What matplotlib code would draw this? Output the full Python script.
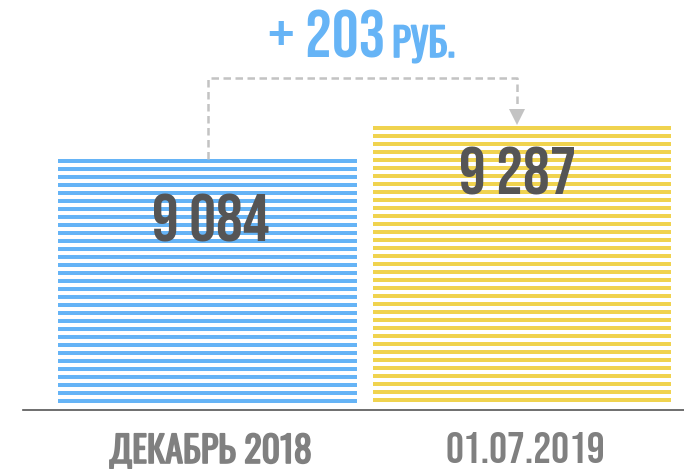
import numpy as np
import matplotlib
matplotlib.use("Agg")
import matplotlib.pyplot as plt
import matplotlib.transforms as mtransforms
import matplotlib.patheffects as pe

categories = ["ДЕКАБРЬ 2018", "01.07.2019"]
values = [9084, 9287]
value_labels = ["9 084", "9 287"]
diff_label = "+ 203"
unit_label = "РУБ."

blue = "#66b4f6"
yellow = "#f0d34f"
colors = [blue, yellow]

plt.rcParams["font.family"] = ["Bebas Neue", "Oswald", "DejaVu Sans"]

fig = plt.figure(figsize=(6.84, 4.69), dpi=100)
ax = fig.add_axes([0, 0, 1, 1])
ax.axis("off")

base = 7580
per_px = 6.15  # data units per pixel
ax.set_ylim(base - 65 * per_px, base + 404 * per_px)
ax.set_xlim(-0.66, 1.515)

x = np.arange(len(values))
width = 0.948
period = 8 * per_px
thick = 3.7 * per_px

# striped bars
for i, v in enumerate(values):
    tops = np.arange(v, base, -period)
    bottoms = tops - thick
    keep = bottoms >= base - 1
    ax.bar(np.full(keep.sum(), x[i]), thick, bottom=bottoms[keep], width=width,
           color=colors[i], linewidth=0)

# baseline
ax.axhline(base - 6 * per_px, xmin=23 / 684, xmax=1, color="#555555", lw=1.2)

# value labels
ax.text(x[0] + 0.01, values[0] - 59 * per_px, value_labels[0], ha="center", va="center",
        fontsize=48, color="#555555")
ax.text(x[1] - 0.015, values[1] - 45 * per_px, value_labels[1], ha="center", va="center",
        fontsize=48, color="#555555")

# category labels (Cyrillic one in Oswald, Bebas has no Cyrillic)
trans = mtransforms.blended_transform_factory(ax.transData, fig.transFigure)
ax.text(x[0] + 0.01, 1 - 463 / 469, categories[0], transform=trans, ha="center",
        va="baseline", fontsize=26, family=["Oswald", "DejaVu Sans"], color="#808080",
        path_effects=[pe.withStroke(linewidth=1.2, foreground="#808080")])
ax.text(x[1] + 0.01, 1 - 463 / 469, categories[1], transform=trans, ha="center",
        va="baseline", fontsize=32, color="#808080")

# dashed connector
top_y = base + (404 - 78) * per_px
x_end = x[1] - 0.015
ax.plot([x[0], x[0], x_end, x_end], [values[0], top_y, top_y, values[1] + 18 * per_px],
        color="#c3c3c3", lw=1.8, ls=(0, (3, 1.8)), solid_capstyle="butt")
ax.plot([x_end], [values[1] + 9 * per_px], marker="v", markersize=11, color="#c3c3c3",
        markeredgewidth=0)

# difference title
fig.text(385 / 684, 1 - 57 / 469, diff_label, ha="right", va="baseline",
         fontsize=48, color=blue)
fig.text(392 / 684, 1 - 57 / 469, unit_label, ha="left", va="baseline",
         fontsize=28, family=["Oswald", "DejaVu Sans"], color=blue,
         path_effects=[pe.withStroke(linewidth=1.2, foreground=blue)])

fig.savefig("out.png", dpi=100)
